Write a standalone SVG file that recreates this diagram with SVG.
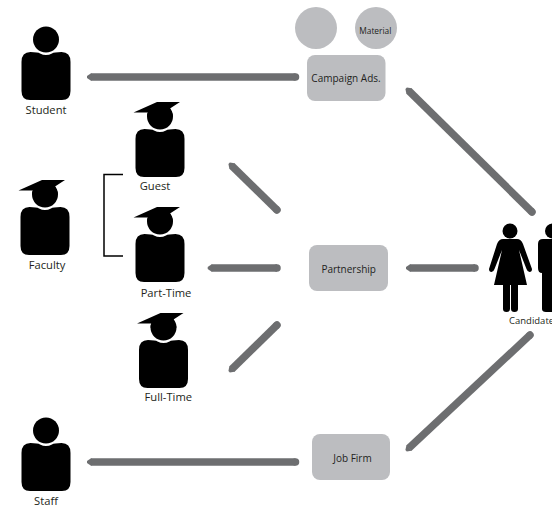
<svg xmlns="http://www.w3.org/2000/svg" width="552" height="507" viewBox="0 0 552 507">
<style>
text{font-family:"Open Sans","Noto Sans",sans-serif;font-size:11.200px;fill:#231f20;text-anchor:middle}
.box{fill:#bcbdc0}
.box+text{font-size:10px}
.c{stroke:#6d6e70;stroke-width:7.500;stroke-linecap:butt;fill:none;marker-start:url(#tip);marker-end:url(#cap-round)}
.k{fill:#000}
</style>
<defs>
<marker id="tip" markerUnits="userSpaceOnUse" viewBox="0 0 12 12" markerWidth="12" markerHeight="12" refX="6" refY="6" orient="auto"><path d="M6.500 2.250H6L2 5V7L6 9.750H6.500Z" fill="#6d6e70"/></marker>
<marker id="cap-round" markerUnits="userSpaceOnUse" viewBox="0 0 12 12" markerWidth="12" markerHeight="12" refX="6" refY="6" orient="auto"><circle cx="6" cy="6" r="3.750" fill="#6d6e70"/></marker>
<g id="person">
<circle cx="0" cy="-12.500" r="13"/>
<path d="M-15.500 0Q-8 0-6 1.500Q0 4.500 6 1.500Q8 0 15.500 0Q24.500 0 24.500 10V39Q24.500 48 16 48H-16Q-24.500 48-24.500 39V10Q-24.500 0-15.500 0Z"/>
</g>
<path id="cap" d="M-26.500-16.500L-3-27H20L10-20.500Q13-14 13-12.500H-13Q-13-15-12-16.500Z"/>
</defs>
<g id="connectors">
<line class="c" x1="91" y1="77" x2="295.500" y2="77"/>
<line class="c" x1="409" y1="91" x2="532" y2="212"/>
<line class="c" x1="232" y1="166" x2="277" y2="210"/>
<line class="c" x1="211.700" y1="268" x2="277" y2="268"/>
<line class="c" x1="410" y1="268" x2="475" y2="268"/>
<line class="c" x1="232" y1="369" x2="277" y2="325"/>
<line class="c" x1="409" y1="448" x2="530" y2="335"/>
<line class="c" x1="91" y1="462" x2="295.500" y2="462"/>
</g>
<g id="bracket"><path d="M123 174.500H104V256H123" fill="none" stroke="#000" stroke-width="1.500"/></g>
<g id="material-blank"><circle class="box" cx="316" cy="28" r="21"/></g>
<g id="material"><circle class="box" cx="376" cy="28" r="21"/><text x="375.300" y="34" style="font-size:8.400px">Material</text></g>
<g id="campaign"><rect class="box" x="307" y="55" width="78.500" height="46" rx="8"/><text x="346" y="82">Campaign Ads.</text></g>
<g id="partnership"><rect class="box" x="309" y="245" width="79" height="46" rx="8"/><text x="348.700" y="273">Partnership</text></g>
<g id="jobfirm"><rect class="box" x="312" y="434" width="78" height="46" rx="8"/><text x="352.500" y="461.500">Job Firm</text></g>
<g id="student" class="k"><use href="#person" transform="translate(46 52)"/><text x="46" y="114">Student</text></g>
<g id="staff" class="k"><use href="#person" transform="translate(46 443)"/><text x="46" y="505">Staff</text></g>
<g id="faculty" class="k"><use href="#person" transform="translate(45 207)"/><use href="#cap" transform="translate(45 207)"/><text x="47" y="269">Faculty</text></g>
<g id="guest" class="k"><use href="#person" transform="translate(160 129)"/><use href="#cap" transform="translate(160 129)"/><text x="155" y="190">Guest</text></g>
<g id="parttime" class="k"><use href="#person" transform="translate(160 234)"/><use href="#cap" transform="translate(160 234)"/><text x="166" y="297">Part-Time</text></g>
<g id="fulltime" class="k"><use href="#person" transform="translate(163.500 340)"/><use href="#cap" transform="translate(163.500 340)"/><text x="168.300" y="401">Full-Time</text></g>
<g id="candidates" class="k">
<circle cx="510" cy="231" r="7.500"/>
<path d="M503 239H517Q521 239 523 244L532 269Q532 272 529.500 272Q527.500 272 526.500 269L519 250L527 285H518V309Q518 312 514.500 312Q511 312 511 309V285H510V309Q510 312 506.500 312Q503 312 503 309V285H494L502 250L494.500 269Q493.500 272 491.500 272Q489 272 489 269L497 244Q499 239 503 239Z"/>
<circle cx="552.500" cy="231" r="7.500"/>
<path d="M543 239H552V312H546Q542 312 542 309V273H542Q538 273 538 268V244Q538 239 543 239Z"/>
<text x="509" y="324" style="font-size:9.500px;text-anchor:start">Candidates</text>
</g>
</svg>
